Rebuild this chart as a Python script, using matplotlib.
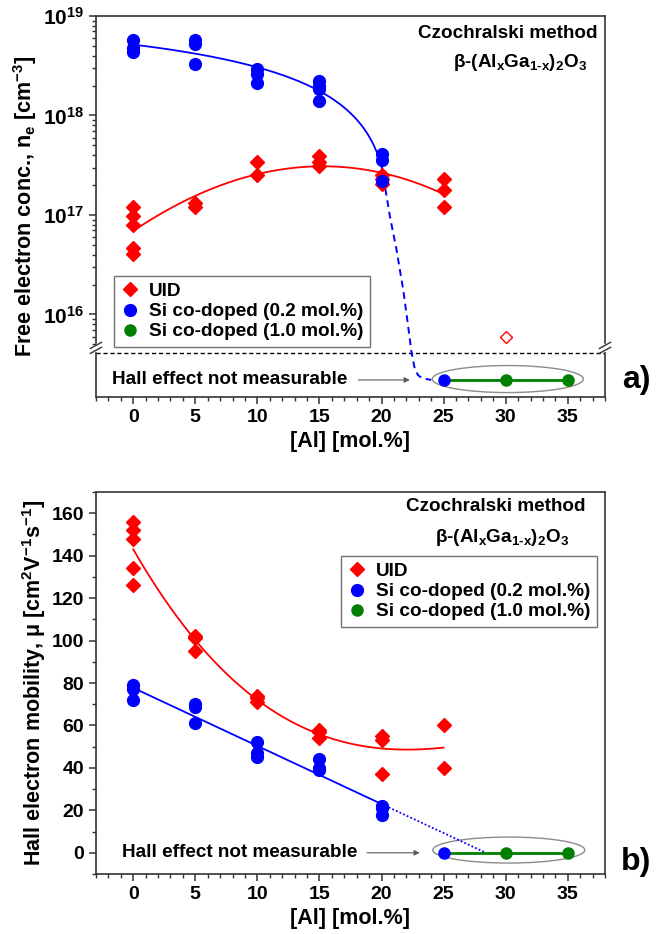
import numpy as np
import matplotlib
matplotlib.use("Agg")
import matplotlib.pyplot as plt
from matplotlib.patches import Ellipse
from matplotlib.ticker import FixedLocator, MultipleLocator, NullFormatter

FUENTE = "Liberation Sans"
plt.rcParams["font.family"] = [FUENTE, "DejaVu Sans"]
plt.rcParams["font.weight"] = "bold"
plt.rcParams["axes.labelweight"] = "bold"
plt.rcParams["mathtext.fontset"] = "custom"
plt.rcParams["mathtext.rm"] = FUENTE + ":bold"
plt.rcParams["mathtext.bf"] = FUENTE + ":bold"
plt.rcParams["mathtext.it"] = FUENTE + ":bold"
plt.rcParams["mathtext.default"] = "rm"

# ---------------- datos ----------------
# a) concentracion de electrones libres
ne_uid_x = [0, 0, 0, 0, 0, 5, 5, 10, 10, 15, 15, 15, 20, 20, 20, 25, 25, 25]
ne_uid = [1.2e17, 9.8e16, 8.0e16, 4.7e16, 4.1e16, 1.33e17, 1.2e17, 3.4e17, 2.5e17,
          3.9e17, 3.4e17, 3.1e17, 2.5e17, 2.3e17, 2.05e17, 2.3e17, 1.8e17, 1.2e17]
ne_si_x = [0, 0, 0, 5, 5, 5, 10, 10, 10, 15, 15, 15, 15, 20, 20, 20]
ne_si = [5.8e18, 4.8e18, 4.3e18, 5.7e18, 5.2e18, 3.3e18, 2.9e18, 2.6e18, 2.1e18,
         2.2e18, 2.0e18, 1.85e18, 1.4e18, 4.1e17, 3.6e17, 2.2e17]
ne_uid_open_x = [30]
ne_uid_open = [6e15]
# guia a mano (linea discontinua azul) despues de 20 %
guia_x = [20.68, 21.21, 21.75, 22.15, 22.42, 22.69, 22.95, 23.3, 24.0]
guia_y = [9.6e16, 4.45e16, 1.76e16, 7.5e15, 4.1e15, 2.8e15, 2.45e15, 2.28e15, 2.2e15]
ne_break = 4.1e15      # nivel del corte del eje
ne_nm = 2.2e15         # nivel "no medible"

# b) movilidad Hall
mu_uid_x = [0, 0, 0, 0, 0, 5, 5, 5, 10, 10, 10, 15, 15, 15, 20, 20, 20, 25, 25]
mu_uid = [156, 152, 148, 134, 126, 102, 101, 95, 74, 73, 71, 58, 57, 54, 55, 53, 37, 60, 40]
mu_si_x = [0, 0, 0, 5, 5, 5, 10, 10, 10, 15, 15, 15, 20, 20, 20]
mu_si = [79, 77, 72, 70, 68.5, 61, 52, 47, 45, 44, 40, 39, 22, 21, 18]

# puntos sin efecto Hall medible
nm_si_x = [25]
nm_green_x = [30, 35]

ROJO = "#ff0000"
AZUL = "#0000ff"
VERDE = "#008000"
GRIS = "#333333"

formula = r"β-(Al$_x$Ga$_{1\text{-}x}$)$_2$O$_3$"

fig = plt.figure(figsize=(6.61, 9.34), dpi=100)
ax1 = fig.add_axes([0.1452, 0.5749, 0.7701, 0.4080])
ax2 = fig.add_axes([0.1452, 0.0642, 0.7701, 0.4090])

#*****************************
# a) concentracion
#*****************************
ax1.set_yscale("log")
ax1.set_xlim(-3, 38)
ax1.set_ylim(1.48e15, 1e19)

# ajustes
xr = np.linspace(0, 25, 200)
c_uid = np.polyfit(ne_uid_x, np.log10(ne_uid), 3)
ax1.plot(xr, 10 ** np.polyval(c_uid, xr), color=ROJO, lw=1.3, zorder=2)

xb = np.linspace(0, 20, 200)
c_si = np.polyfit(ne_si_x, ne_si, 2)
ax1.plot(xb, np.polyval(c_si, xb), color=AZUL, lw=1.3, zorder=2)
ax1.plot([20] + guia_x, [np.polyval(c_si, 20)] + guia_y, color=AZUL, lw=1.4,
         ls=(0, (3.5, 2.5)), zorder=2)

ax1.axhline(ne_break, color="k", lw=1, ls=(0, (3, 2)), zorder=1)

ax1.plot(ne_uid_x, ne_uid, "D", color=ROJO, ms=7, ls="none", zorder=4, label="UID")
ax1.plot(ne_si_x, ne_si, "o", color=AZUL, ms=8.5, ls="none", zorder=4,
         label="Si co-doped (0.2 mol.%)")
ax1.plot(ne_uid_open_x, ne_uid_open, "D", mfc="none", mec=ROJO, mew=1, ms=6.5, ls="none")
ax1.plot([nm_si_x[0]] + nm_green_x, [ne_nm] * 3, color=VERDE, lw=2, zorder=3)
ax1.plot(nm_si_x, [ne_nm], "o", color=AZUL, ms=8, zorder=5)
ax1.plot(nm_green_x, [ne_nm] * 2, "o", color=VERDE, ms=8, ls="none", zorder=5,
         label="Si co-doped (1.0 mol.%)")

ax1.text(-1.7, ne_nm, "Hall effect not measurable", fontsize=13.6, ha="left", va="center")
ax1.annotate("", xy=(22.5, ne_nm), xytext=(17.9, ne_nm),
             arrowprops=dict(arrowstyle="-|>", lw=0.8, color="0.35", mutation_scale=8))
ax1.add_patch(Ellipse((0.809, 0.0472), 0.2967, 0.0709, transform=ax1.transAxes,
                      fill=False, ec="0.55", lw=1))

ax1.text(0.809, 0.955, "Czochralski method", transform=ax1.transAxes, fontsize=13.6,
         ha="center", va="center")
ax1.text(0.833, 0.877, formula, transform=ax1.transAxes,
         fontsize=13.6, ha="center", va="center")

# ejes con corte
ax1.yaxis.set_major_locator(FixedLocator([1e16, 1e17, 1e18, 1e19]))
ax1.set_yticklabels([r"$10^{16}$", r"$10^{17}$", r"$10^{18}$", r"$10^{19}$"])
menores = [k * 10.0 ** d for d in (15, 16, 17, 18) for k in range(2, 10) if k * 10.0 ** d > ne_break]
ax1.yaxis.set_minor_locator(FixedLocator(menores))
ax1.yaxis.set_minor_formatter(NullFormatter())
ax1.spines["left"].set_visible(False)
ax1.spines["right"].set_visible(False)
fb = (np.log10(ne_break) - np.log10(1.48e15)) / (19 - np.log10(1.48e15))
for xs in (0, 1):
    ax1.plot([xs, xs], [0, fb], transform=ax1.transAxes, color=GRIS, lw=1.2, clip_on=False)
    ax1.plot([xs, xs], [fb + 0.026, 1], transform=ax1.transAxes, color=GRIS, lw=1.2, clip_on=False)
    for dy in (0.007, 0.02):
        ax1.plot([xs - 0.011, xs + 0.011], [fb + dy - 0.008, fb + dy + 0.008],
                 transform=ax1.transAxes, color=GRIS, lw=1, clip_on=False)

ax1.set_ylabel(r"Free electron conc., n$_e$ [cm$^{-3}$]", fontsize=15.5, labelpad=3)

#*****************************
# b) movilidad
#*****************************
ax2.set_xlim(-3, 38)
ax2.set_ylim(-10, 170)

c_mu = np.polyfit(mu_uid_x, mu_uid, 3)
ax2.plot(xr, np.polyval(c_mu, xr), color=ROJO, lw=1.3, zorder=2)
c_mus = np.polyfit(mu_si_x, mu_si, 1)
x0 = -c_mus[1] / c_mus[0]
ax2.plot(xb, np.polyval(c_mus, xb), color=AZUL, lw=1.3, zorder=2)
ax2.plot([20, x0], [np.polyval(c_mus, 20), 0], color=AZUL, lw=1.3, ls=(0, (1, 1.2)), zorder=2)

ax2.plot(mu_uid_x, mu_uid, "D", color=ROJO, ms=7, ls="none", zorder=4, label="UID")
ax2.plot(mu_si_x, mu_si, "o", color=AZUL, ms=8.5, ls="none", zorder=4,
         label="Si co-doped (0.2 mol.%)")
ax2.plot([nm_si_x[0]] + nm_green_x, [0] * 3, color=VERDE, lw=2, zorder=3)
ax2.plot(nm_si_x, [0], "o", color=AZUL, ms=8, zorder=5)
ax2.plot(nm_green_x, [0, 0], "o", color=VERDE, ms=8, ls="none", zorder=5,
         label="Si co-doped (1.0 mol.%)")

ax2.text(-0.9, 0, "Hall effect not measurable", fontsize=13.6, ha="left", va="center")
ax2.annotate("", xy=(23.3, 0), xytext=(18.6, 0),
             arrowprops=dict(arrowstyle="-|>", lw=0.8, color="0.35", mutation_scale=8))
ax2.add_patch(Ellipse((0.811, 0.0628), 0.2986, 0.068, transform=ax2.transAxes,
                      fill=False, ec="0.55", lw=1))

ax2.text(0.786, 0.961, "Czochralski method", transform=ax2.transAxes, fontsize=13.6,
         ha="center", va="center")
ax2.text(0.798, 0.882, formula, transform=ax2.transAxes,
         fontsize=13.6, ha="center", va="center")

ax2.yaxis.set_major_locator(MultipleLocator(20))
ax2.yaxis.set_minor_locator(MultipleLocator(10))
ax2.set_ylabel(r"Hall electron mobility, μ [cm$^2$V$^{-1}$s$^{-1}$]", fontsize=15.5, labelpad=3)

# formato comun
for ax in (ax1, ax2):
    ax.xaxis.set_major_locator(MultipleLocator(5))
    ax.xaxis.set_minor_locator(MultipleLocator(1))
    ax.set_xlabel("[Al] [mol.%]", fontsize=15.5, labelpad=4)
    ax.tick_params(which="both", direction="out", colors=GRIS, labelcolor="k",
                   labelsize=14, top=False, right=False)
    ax.tick_params(which="major", length=5, width=1.1)
    ax.tick_params(which="minor", length=3, width=1)
    for s in ax.spines.values():
        s.set_color(GRIS)
        s.set_linewidth(1.2)
ax1.tick_params(axis="y", labelsize=15)

leg1 = ax1.legend(loc="lower left", bbox_to_anchor=(0.0354, 0.131), borderaxespad=0,
                  fontsize=13.7, handlelength=1.0, handletextpad=0.5, labelspacing=0.15,
                  borderpad=0.35, fancybox=False, edgecolor="0.45", framealpha=1)
leg1.get_frame().set_linewidth(1)
leg2 = ax2.legend(loc="upper left", bbox_to_anchor=(0.481, 0.8325), borderaxespad=0,
                  fontsize=13.7, handlelength=1.0, handletextpad=0.5, labelspacing=0.15,
                  borderpad=0.35, fancybox=False, edgecolor="0.45", framealpha=1)
leg2.get_frame().set_linewidth(1)

fig.text(0.962, 1 - 380 / 934, "a)", fontsize=23, ha="center", va="center")
fig.text(0.962, 1 - 862 / 934, "b)", fontsize=23, ha="center", va="center")

fig.savefig("out.png", dpi=100)
